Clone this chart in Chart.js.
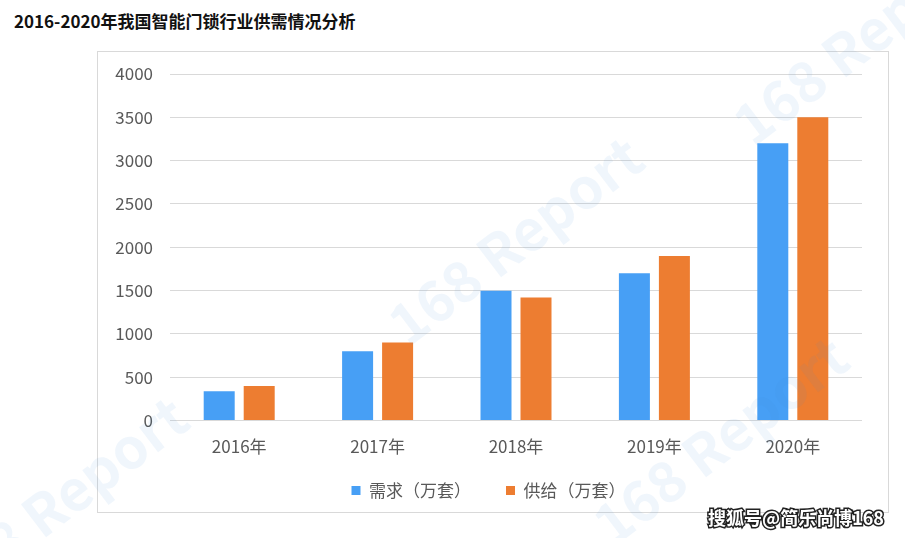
<!DOCTYPE html>
<html>
<head>
<meta charset="utf-8">
<script src="https://cdn.jsdelivr.net/npm/chart.js@4"></script>
<style>
    body { margin: 0; background: #fff; }
    #wrap { position: relative; width: 905px; height: 538px; overflow: hidden; }
    #frame { position: absolute; left: 97px; top: 51px; width: 790px; height: 460px; border: 1px solid #d9d9d9; }
    #title { position: absolute; left: 14px; top: 8px; font: bold 17px "Noto Sans CJK SC", sans-serif; color: #111; }
    canvas { position: absolute; left: 0; top: 0; }
</style>
</head>
<body>
<div id="wrap">
    <div id="frame"></div>
    <div id="title">2016-2020年我国智能门锁行业供需情况分析</div>
    <canvas id="chart" width="905" height="538"></canvas>
</div>
<script>
const years = ['2016年', '2017年', '2018年', '2019年', '2020年'];
const demand = [340, 800, 1500, 1700, 3200];
const supply = [400, 900, 1420, 1900, 3500];
const seriesNames = ['需求（万套）', '供给（万套）'];
const yTicks = [0, 500, 1000, 1500, 2000, 2500, 3000, 3500, 4000];

const FONT = '"Noto Sans CJK SC", "Open Sans", sans-serif';

// faint site watermarks + source tag
const watermark = {
    id: 'watermark',
    afterDraw(chart) {
        const ctx = chart.ctx;
        ctx.save();
        ctx.fillStyle = 'rgba(70, 140, 220, 0.08)';
        ctx.font = 'bold 56px ' + FONT;
        ctx.textAlign = 'center';
        ctx.textBaseline = 'middle';
        [[515, 240], [860, 40], [720, 440], [60, 500]].forEach(([x, y]) => {
            ctx.save();
            ctx.translate(x, y);
            ctx.rotate(-0.65);
            ctx.fillText('168 Report', 0, 0);
            ctx.restore();
        });
        ctx.font = 'bold 18px ' + FONT;
        ctx.textAlign = 'left';
        ctx.lineWidth = 3;
        ctx.strokeStyle = '#222';
        ctx.strokeText('搜狐号@简乐尚博168', 708, 518);
        ctx.fillStyle = '#fff';
        ctx.fillText('搜狐号@简乐尚博168', 708, 518);
        ctx.restore();
    }
};

// nudge the legend so it sits centred under the frame, like the original
const legendNudge = {
    id: 'legendNudge',
    afterLayout(chart) {
        const lg = chart.legend;
        lg.left += 9; lg.right += 9;
        lg.top -= 18; lg.bottom -= 18;
    }
};

new Chart(document.getElementById('chart').getContext('2d'), {
    type: 'bar',
    data: {
        labels: years,
        datasets: [
            { label: seriesNames[0], data: demand, backgroundColor: '#479ff5' },
            { label: seriesNames[1], data: supply, backgroundColor: '#ed7d31' }
        ]
    },
    options: {
        responsive: false,
        animation: false,
        layout: { padding: { left: 97, top: 74, right: 43, bottom: 11 } },
        categoryPercentage: 0.578,
        barPercentage: 0.775,
        plugins: {
            title: { display: false },
            tooltip: { enabled: false },
            legend: {
                position: 'bottom',
                labels: {
                    boxWidth: 9,
                    boxHeight: 9,
                    padding: 35,
                    color: '#595959',
                    font: { family: FONT, size: 17 }
                }
            }
        },
        scales: {
            x: {
                grid: { display: false },
                border: { display: false },
                ticks: { color: '#595959', padding: 8, maxRotation: 0, font: { family: FONT, size: 17 } }
            },
            y: {
                min: 0,
                max: 4000,
                afterBuildTicks(scale) { scale.ticks = yTicks.map(v => ({ value: v })); },
                grid: { color: '#d9d9d9', lineWidth: 1, drawTicks: false },
                border: { display: false },
                ticks: { color: '#595959', padding: 17, font: { family: FONT, size: 17 }, callback: v => String(v) },
                afterFit(scale) { scale.width = 73; }
            }
        }
    },
    plugins: [watermark, legendNudge]
});
</script>
</body>
</html>
